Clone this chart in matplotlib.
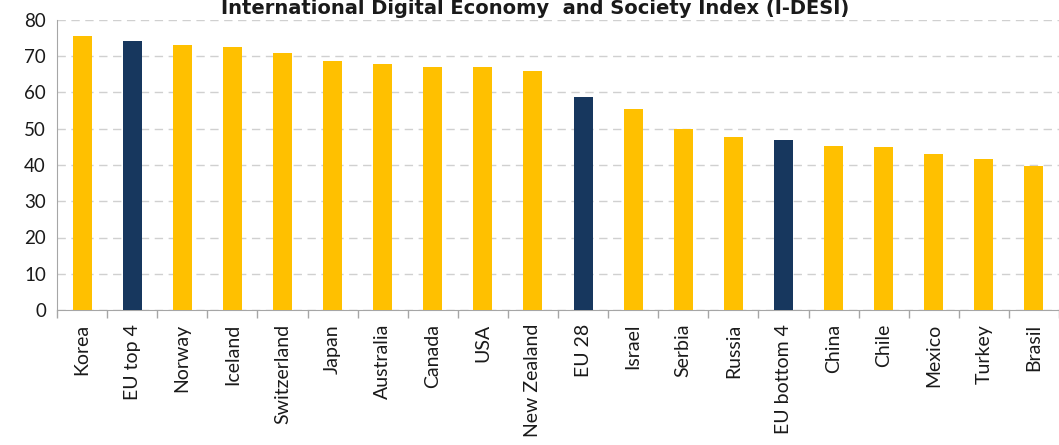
import matplotlib
matplotlib.use("Agg")
import matplotlib.pyplot as plt
import numpy as np

categories = ["Korea", "EU top 4", "Norway", "Iceland", "Switzerland", "Japan",
              "Australia", "Canada", "USA", "New Zealand", "EU 28", "Israel",
              "Serbia", "Russia", "EU bottom 4", "China", "Chile", "Mexico",
              "Turkey", "Brasil"]
values = [75.7, 74.2, 73.2, 72.6, 70.8, 68.8, 67.9, 67.0, 67.0, 66.0, 58.8, 55.4,
          49.8, 47.8, 46.9, 45.3, 44.9, 43.0, 41.7, 39.7]
eu_groups = ["EU top 4", "EU 28", "EU bottom 4"]
yticks = [0, 10, 20, 30, 40, 50, 60, 70, 80]
title = "International Digital Economy  and Society Index (I-DESI)"

W, H = 1059, 445
fig = plt.figure(figsize=(W / 100, H / 100), dpi=100)
ax = fig.add_axes([57 / W, (H - 310) / H, (W - 57) / W, (310 - 20) / H])

colors = ["#17375E" if c in eu_groups else "#FFC000" for c in categories]
x = np.arange(len(categories))
ax.bar(x, values, width=0.38, color=colors, zorder=3)

ax.set_ylim(0, 80)
ax.set_xlim(-0.5, -0.5 + (W - 57) / 50.15)
ax.set_yticks(yticks)
ax.yaxis.grid(True, color="#D0D0D0", linestyle=(0, (6, 4)), linewidth=1.0, zorder=0)
ax.set_axisbelow(True)

for s in ["top", "right"]:
    ax.spines[s].set_visible(False)
ax.spines["left"].set_color("#A6A6A6")
ax.spines["bottom"].set_color("#A6A6A6")

ax.set_xticks(x)
ax.set_xticklabels(categories, rotation=90, fontsize=14, family="Lato", color="#1A1A1A")
ax.tick_params(axis="x", which="major", length=0, pad=10)
ax.set_xticks(np.arange(len(categories) + 1) - 0.5, minor=True)
ax.tick_params(axis="x", which="minor", length=6, color="#A6A6A6", width=1)
ax.tick_params(axis="y", length=0, pad=8, labelsize=13.5, labelcolor="#1A1A1A")
for lab in ax.get_yticklabels():
    lab.set_family("Lato")

fig.text(535 / W, 1 - 14.5 / H, title, ha="center", va="baseline", fontsize=14,
         fontweight="bold", family="DejaVu Sans", color="#1A1A1A")

fig.savefig("out.png", dpi=100)
